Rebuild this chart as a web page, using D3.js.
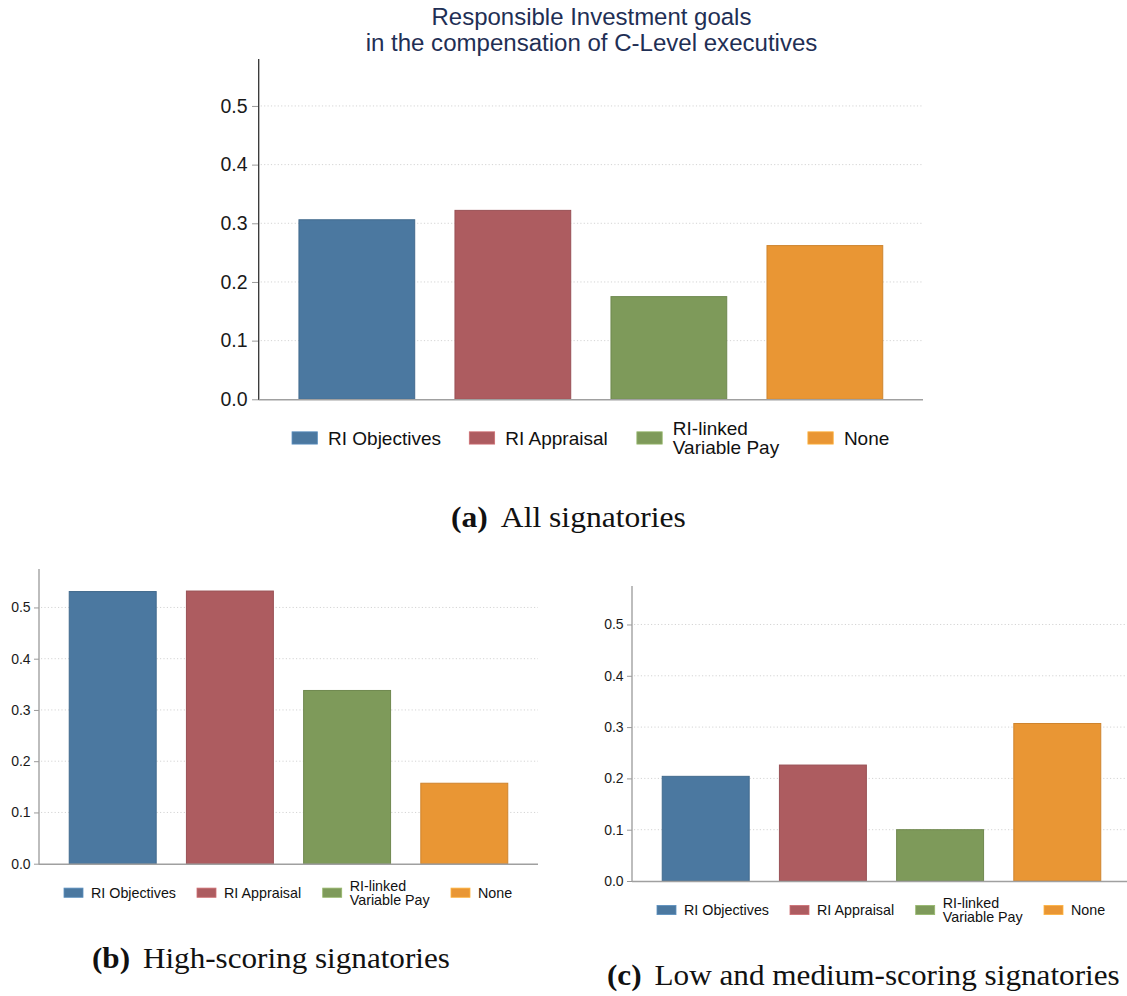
<!DOCTYPE html>
<html>
<head>
<meta charset="utf-8">
<script src="https://cdn.jsdelivr.net/npm/d3@7"></script>
<style>
  html, body { margin: 0; padding: 0; background: #fff; }
  svg { display: block; }
</style>
</head>
<body>
<svg id="fig" width="1127" height="996"></svg>
<script>
// Shares of signatories reporting each kind of RI goal in C-level pay
const categories = ["RI Objectives", "RI Appraisal", "RI-linked\nVariable Pay", "None"];
const allSignatories = [0.306, 0.322, 0.175, 0.262];
const highScoring = [0.531, 0.532, 0.338, 0.157];
const lowMediumScoring = [0.204, 0.226, 0.100, 0.307];
const yTicks = [0.0, 0.1, 0.2, 0.3, 0.4, 0.5];
const barColors = ["#4b78a0", "#ad5c60", "#7e9a5a", "#e99634"];

const titleLines = ["Responsible Investment goals", "in the compensation of C-Level executives"];
const captions = [
  { tag: "(a)", text: "All signatories" },
  { tag: "(b)", text: "High-scoring signatories" },
  { tag: "(c)", text: "Low and medium-scoring signatories" }
];

const svg = d3.select("#fig");
const SANS = "'Liberation Sans', Arial, sans-serif";
const SERIF = "'Liberation Serif', 'Times New Roman', serif";

// squeeze/stretch a text element horizontally around an anchor x
function fitWidth(sel, target, ax) {
  const w = sel.node().getBBox().width;
  const s = target / w;
  sel.attr("transform", `translate(${ax},0) scale(${s},1) translate(${-ax},0)`);
}

function drawPanel(cfg) {
  const k = cfg.k;
  const g = svg.append("g");
  const x = d3.scaleBand().domain(d3.range(categories.length))
    .range([cfg.x0, cfg.x1]).padding(0.258);
  const y = d3.scaleLinear().domain([0, cfg.yMax]).range([cfg.yBase, cfg.yTop]);

  // dotted horizontal grid
  g.append("g").selectAll("line").data(yTicks.filter(t => t > 0)).join("line")
    .attr("x1", cfg.x0 + 2).attr("x2", cfg.x1)
    .attr("y1", d => y(d)).attr("y2", d => y(d))
    .attr("stroke", "#d4d4d4").attr("stroke-width", 1)
    .attr("stroke-dasharray", "1.2,2.2");

  // bars
  g.append("g").selectAll("rect").data(cfg.values).join("rect")
    .attr("x", (d, i) => x(i)).attr("width", x.bandwidth())
    .attr("y", d => y(d)).attr("height", d => y(0) - y(d))
    .attr("fill", (d, i) => barColors[i])
    .attr("stroke", (d, i) => d3.color(barColors[i]).darker(0.35))
    .attr("stroke-width", 1);

  // y axis with ticks and labels
  const ax = g.append("g").attr("transform", `translate(${cfg.x0},0)`)
    .call(d3.axisLeft(y).tickValues(yTicks).tickFormat(d3.format(".1f"))
      .tickSize(5 * k).tickSizeOuter(0).tickPadding(3.4 * k));
  ax.select(".domain").remove();
  ax.selectAll(".tick line").attr("stroke", "#9a9a9a").attr("stroke-width", 1);
  ax.selectAll(".tick text").attr("font-family", SANS)
    .attr("font-size", cfg.tickFont).attr("fill", "#1a1a1a");

  // axis lines
  g.append("line").attr("x1", cfg.x0).attr("x2", cfg.x0)
    .attr("y1", y(cfg.yMax)).attr("y2", cfg.yBase + 0.75)
    .attr("stroke", cfg.yAxisColor).attr("stroke-width", 1.3);
  g.append("line").attr("x1", cfg.x0).attr("x2", cfg.x1)
    .attr("y1", cfg.yBase + 0.5).attr("y2", cfg.yBase + 0.5)
    .attr("stroke", "#a0a0a0").attr("stroke-width", 1.6);

  // legend
  const legendOffsets = [25, 158, 283.7, 412];
  const ly = cfg.yBase + 29 * k;
  const items = g.append("g").selectAll("g").data(categories).join("g")
    .attr("transform", (d, i) => `translate(${cfg.x0 + legendOffsets[i] * k},${ly})`);
  items.append("rect")
    .attr("x", 0).attr("y", -4.6 * k).attr("width", 19 * k).attr("height", 9.2 * k)
    .attr("fill", (d, i) => barColors[i])
    .attr("stroke", (d, i) => d3.color(barColors[i]).brighter(0.5)).attr("stroke-width", 0.8);
  items.each(function (d) {
    const lines = d.split("\n");
    const t = d3.select(this).append("text")
      .attr("font-family", SANS).attr("font-size", cfg.legendFont).attr("fill", "#111");
    lines.forEach((ln, j) => {
      t.append("tspan").attr("x", 27 * k)
        .attr("y", (j - (lines.length - 1) / 2) * 14.3 * k)
        .attr("dy", "0.36em").text(ln);
    });
  });
}

// (a) all signatories, with its title
drawPanel({ values: allSignatories, k: 1.333, x0: 258.7, x1: 923,
  yBase: 399.3, yTop: 59, yMax: 0.58, tickFont: 19.5, legendFont: 19, yAxisColor: "#333" });
// (b) high-scoring
drawPanel({ values: highScoring, k: 1, x0: 39, x1: 538,
  yBase: 863.7, yTop: 569, yMax: 0.575, tickFont: 14, legendFont: 14.3, yAxisColor: "#9a9a9a" });
// (c) low and medium-scoring
drawPanel({ values: lowMediumScoring, k: 1, x0: 632, x1: 1131,
  yBase: 881, yTop: 586, yMax: 0.575, tickFont: 14, legendFont: 14.3, yAxisColor: "#9a9a9a" });

// chart title
const titleSpecs = [{ y: 25, w: 320 }, { y: 51, w: 452 }];
titleLines.forEach((ln, i) => {
  const t = svg.append("text").attr("x", 591.5).attr("y", titleSpecs[i].y)
    .attr("text-anchor", "middle").attr("font-family", SANS).attr("font-size", 23.5)
    .attr("fill", "#1f2f55").text(ln);
  fitWidth(t, titleSpecs[i].w, 591.5);
});

// sub-figure captions
const captionPos = [
  { x: 451, y: 527, w: 235 },
  { x: 92, y: 968, w: 358 },
  { x: 607, y: 985, w: 513 }
];
captions.forEach((c, i) => {
  const p = captionPos[i];
  const t = svg.append("text").attr("x", p.x).attr("y", p.y)
    .attr("font-family", SERIF).attr("font-size", 29).attr("fill", "#111");
  t.append("tspan").attr("font-weight", "bold").text(c.tag);
  t.append("tspan").attr("dx", 12).text(c.text);
  fitWidth(t, p.w, p.x);
});
</script>
</body>
</html>
